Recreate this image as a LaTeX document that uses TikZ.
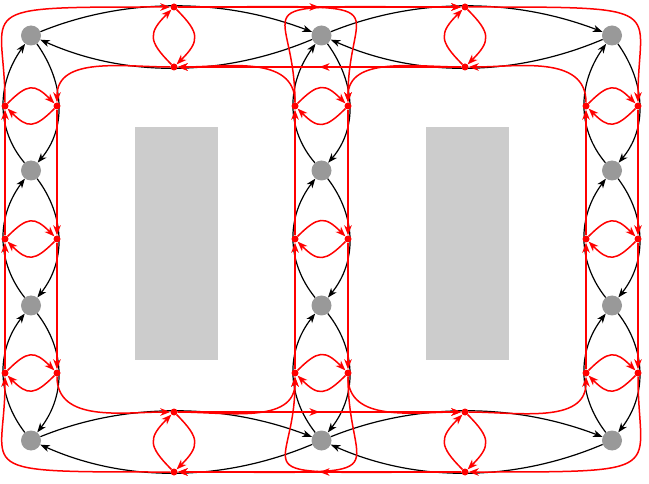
\documentclass[tikz,border=0pt]{standalone}
\usetikzlibrary{arrows.meta,calc,decorations.markings}
\newcommand\barcfrom[3]{\draw[barc] (#1) .. controls ($(#1)!0.3333!(#2)+1.3333*(#3)-0.6667*(#1)-0.6667*(#2)$) and ($(#1)!0.6667!(#2)+1.3333*(#3)-0.6667*(#1)-0.6667*(#2)$) .. (#2);}
\newcommand\rline[2]{\draw[redge] (#1) -- (#2);}
\newcommand\rlinem[2]{\draw[redge,midarrow] (#1) -- (#2);}
\newcommand\rbend[4]{\draw[redge] (#1) to[out=#3,in=#4] (#2);}
\newcommand\rloop[2]{\draw[redge] (#1) to[bend left=45,looseness=1.55] (#2);}
\newcommand\router[4]{\draw[redge] (#1) .. controls ($(#1)+#3$) and ($(#2)+#4$) .. (#2);}
\begin{document}
\begin{tikzpicture}[x=1pt,y=-1pt,
  gnode/.style={circle,fill=gray!80,minimum size=20pt,inner sep=0pt},
  rdot/.style={circle,minimum size=7pt,inner sep=0pt},
  barc/.style={draw=black,line width=1.2pt,-{Stealth[length=9.5pt,width=7pt,inset=2.8pt]}},
  redge/.style={red,line width=1.5pt,-{Stealth[length=10pt,width=7.5pt,inset=3pt]}},
  midarrow/.style={postaction={decorate},decoration={markings,mark=at position 0.5 with {\arrow{Stealth[length=10pt,width=7.5pt,inset=3pt]}}}},
]
\useasboundingbox (0,0) rectangle (649,484);
\fill[white] (0,0) rectangle (649,484);
\fill[gray!40] (135,127) rectangle (218,360);
\fill[gray!40] (426,127) rectangle (509,360);

% gray nodes
\node[gnode] (g00) at (31,35.5) {};
\node[gnode] (g01) at (31,170.5) {};
\node[gnode] (g02) at (31,305.5) {};
\node[gnode] (g03) at (31,440.5) {};
\node[gnode] (g10) at (321.5,35.5) {};
\node[gnode] (g11) at (321.5,170.5) {};
\node[gnode] (g12) at (321.5,305.5) {};
\node[gnode] (g13) at (321.5,440.5) {};
\node[gnode] (g20) at (612,35.5) {};
\node[gnode] (g21) at (612,170.5) {};
\node[gnode] (g22) at (612,305.5) {};
\node[gnode] (g23) at (612,440.5) {};

% red dot nodes (filled at the end)
\node[rdot] (hTLr) at (174,7) {};
\node[rdot] (hTLl) at (174,67) {};
\node[rdot] (hTRr) at (465,7) {};
\node[rdot] (hTRl) at (465,67) {};
\node[rdot] (hBLr) at (174,412) {};
\node[rdot] (hBLl) at (174,472) {};
\node[rdot] (hBRr) at (465,412) {};
\node[rdot] (hBRl) at (465,472) {};
\node[rdot] (u01) at (5,106) {};
\node[rdot] (u02) at (5,239) {};
\node[rdot] (u03) at (5,373) {};
\node[rdot] (d01) at (57,106) {};
\node[rdot] (d02) at (57,239) {};
\node[rdot] (d03) at (57,373) {};
\node[rdot] (u11) at (295,106) {};
\node[rdot] (u12) at (295,239) {};
\node[rdot] (u13) at (295,373) {};
\node[rdot] (d11) at (348,106) {};
\node[rdot] (d12) at (348,239) {};
\node[rdot] (d13) at (348,373) {};
\node[rdot] (u21) at (586,106) {};
\node[rdot] (u22) at (586,239) {};
\node[rdot] (u23) at (586,373) {};
\node[rdot] (d21) at (638,106) {};
\node[rdot] (d22) at (638,239) {};
\node[rdot] (d23) at (638,373) {};

% black arcs
\barcfrom{g00}{g10}{hTLr}
\barcfrom{g10}{g00}{hTLl}
\barcfrom{g10}{g20}{hTRr}
\barcfrom{g20}{g10}{hTRl}
\barcfrom{g03}{g13}{hBLr}
\barcfrom{g13}{g03}{hBLl}
\barcfrom{g13}{g23}{hBRr}
\barcfrom{g23}{g13}{hBRl}
\foreach \c in {0,1,2}{
  \barcfrom{g\c1}{g\c0}{u\c1}
  \barcfrom{g\c0}{g\c1}{d\c1}
  \barcfrom{g\c2}{g\c1}{u\c2}
  \barcfrom{g\c1}{g\c2}{d\c2}
  \barcfrom{g\c3}{g\c2}{u\c3}
  \barcfrom{g\c2}{g\c3}{d\c3}
}

% red edges: corner top-left
\rloop{hTLl}{hTLr}
\rbend{hTLl}{d01}{180}{90}
\router{u01}{hTLr}{(0,-100)}{(-210,0)}
\rloop{u01}{d01}
% corner top-right
\rloop{hTRr}{hTRl}
\router{hTRr}{d21}{(210,0)}{(0,-100)}
\rbend{u21}{hTRl}{90}{0}
\rloop{u21}{d21}
% corner bottom-left
\rloop{d03}{u03}
\rbend{d03}{hBLr}{270}{180}
\router{hBLl}{u03}{(-210,0)}{(0,100)}
\rloop{hBLl}{hBLr}
% corner bottom-right
\rloop{d23}{u23}
\router{d23}{hBRl}{(0,100)}{(210,0)}
\rbend{hBRr}{u23}{0}{270}
\rloop{hBRr}{hBRl}
% top middle
\rloop{hTLr}{hTLl}
\rlinem{hTLr}{hTRr}
\router{hTLr}{d11}{(240,0)}{(0,-110)}
\rlinem{hTRl}{hTLl}
\rloop{hTRl}{hTRr}
\rbend{hTRl}{d11}{180}{90}
\rbend{u11}{hTLl}{90}{0}
\router{u11}{hTRr}{(0,-110)}{(-240,0)}
\rloop{u11}{d11}
% bottom middle
\rloop{d13}{u13}
\router{d13}{hBLl}{(0,110)}{(240,0)}
\rbend{d13}{hBRr}{270}{180}
\rbend{hBLr}{u13}{0}{270}
\rloop{hBLr}{hBLl}
\rlinem{hBLr}{hBRr}
\router{hBRl}{u13}{(-240,0)}{(0,110)}
\rlinem{hBRl}{hBLl}
\rloop{hBRl}{hBRr}
% columns
\foreach \c in {0,1,2}{
  \rline{d\c1}{d\c2}
  \rloop{d\c1}{u\c1}
  \rline{u\c2}{u\c1}
  \rloop{u\c2}{d\c2}
  \rline{d\c2}{d\c3}
  \rloop{d\c2}{u\c2}
  \rline{u\c3}{u\c2}
  \rloop{u\c3}{d\c3}
}

% red dots on top
\foreach \n in {hTLr,hTLl,hTRr,hTRl,hBLr,hBLl,hBRr,hBRl,u01,u02,u03,d01,d02,d03,u11,u12,u13,d11,d12,d13,u21,u22,u23,d21,d22,d23}{
  \fill[red] (\n.center) circle (3.5pt);
}
\end{tikzpicture}
\end{document}
